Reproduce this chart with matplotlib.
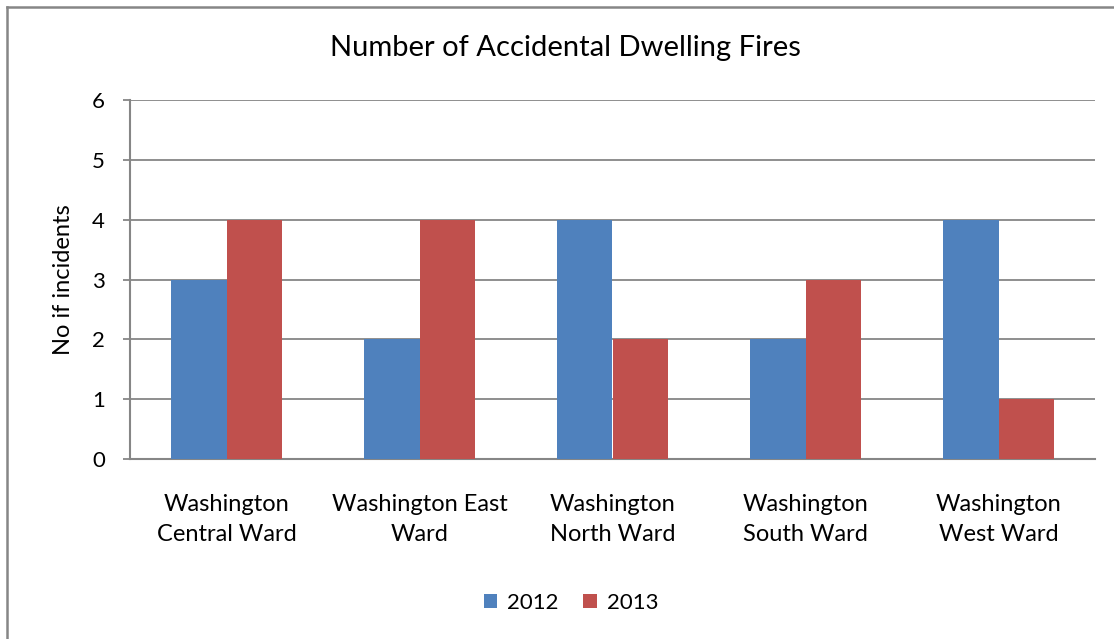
import matplotlib
matplotlib.use("Agg")
import matplotlib.pyplot as plt
from matplotlib.lines import Line2D
import numpy as np

categories = ["Washington\nCentral Ward", "Washington East\nWard", "Washington\nNorth Ward",
              "Washington\nSouth Ward", "Washington\nWest Ward"]
series_names = ["2012", "2013"]
values_2012 = [3, 2, 4, 2, 4]
values_2013 = [4, 4, 2, 3, 1]
yticks = [0, 1, 2, 3, 4, 5, 6]

plt.rcParams['font.family'] = ['Lato', 'DejaVu Sans']
W, H = 1114, 639
fig = plt.figure(figsize=(W / 100, H / 100), dpi=100)
fig.patch.set_facecolor('white')

ax = fig.add_axes([130 / W, 1 - 459 / H, (1095 - 130) / W, (459 - 100) / H])
grey = '#868686'
x = np.arange(len(categories))
bw = 0.285
ax.bar(x - bw / 2, values_2012, bw, color='#4F81BD', label=series_names[0], zorder=3)
ax.bar(x + bw / 2, values_2013, bw, color='#C0504D', label=series_names[1], zorder=3)
ax.set_xlim(-0.5, len(categories) - 0.5)
ax.set_ylim(0, 6)
ax.set_yticks(yticks)
ax.set_yticklabels([str(v) for v in yticks], fontsize=16)
ax.yaxis.grid(True, color=grey, linewidth=1.3, zorder=0)
ax.set_xticks(x)
ax.set_xticklabels(categories, fontsize=17, linespacing=1.55)
ax.tick_params(axis='x', length=0, pad=25)
ax.tick_params(axis='y', length=5, width=1.3, color=grey, pad=13)
for s in ['top', 'right']:
    ax.spines[s].set_visible(False)
for s in ['left', 'bottom']:
    ax.spines[s].set_color(grey)
    ax.spines[s].set_linewidth(1.5)
ax.set_ylabel("No if incidents", fontsize=17, labelpad=13)

fig.text(565 / W, 1 - 48 / H, "Number of Accidental Dwelling Fires", fontsize=21,
         ha='center', va='center')
fig.legend(loc='center', bbox_to_anchor=(571 / W, 1 - 603 / H), ncol=2, frameon=False,
           fontsize=16, handlelength=0.6, handleheight=0.6, columnspacing=1.1,
           handletextpad=0.45)

# outer border
fig.add_artist(Line2D([7 / W, 1], [1 - 7 / H, 1 - 7 / H], color=grey, linewidth=1.8,
                      transform=fig.transFigure))
fig.add_artist(Line2D([7 / W, 7 / W], [0, 1 - 7 / H], color=grey, linewidth=1.8,
                      transform=fig.transFigure))

fig.savefig("out.png", dpi=100, facecolor='white')
